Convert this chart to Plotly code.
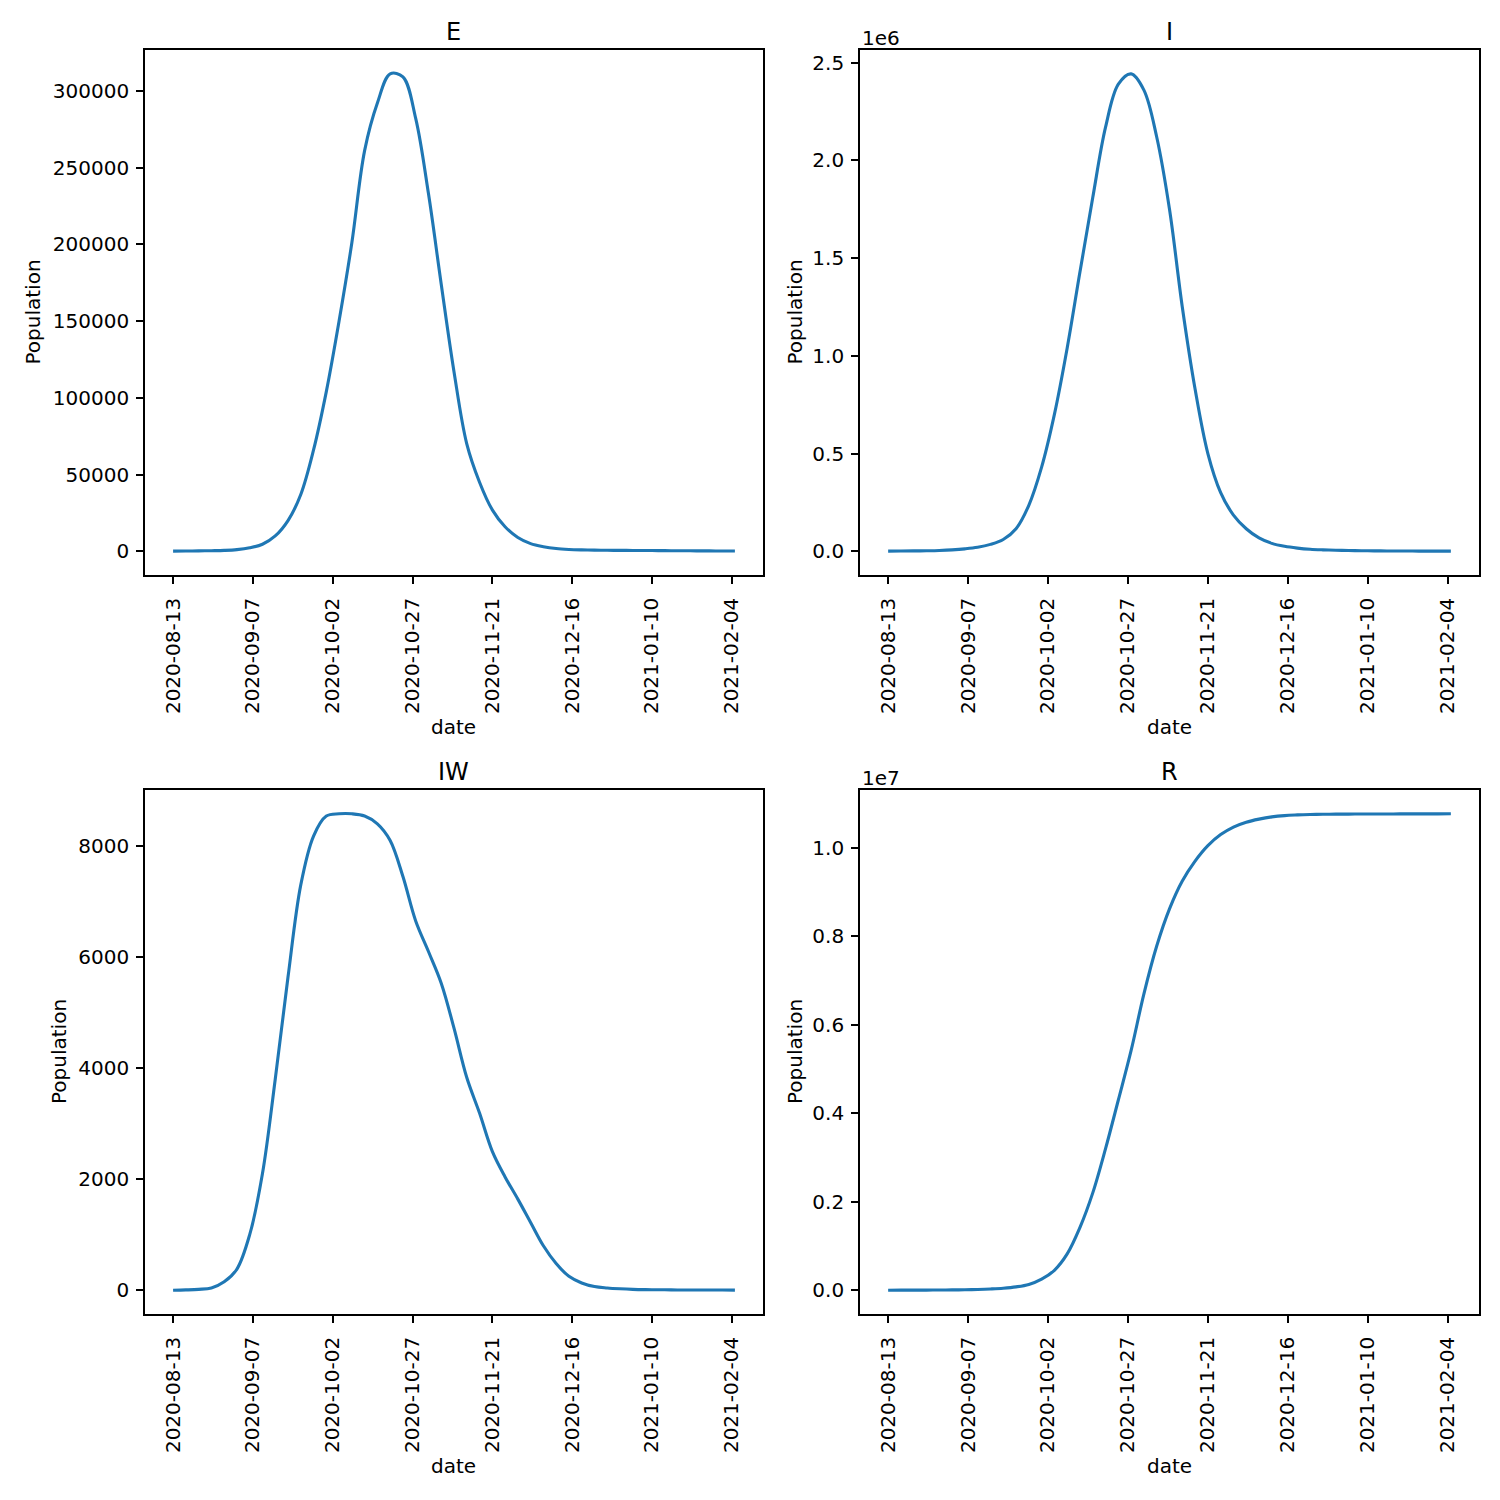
import pandas as pd
import plotly.graph_objects as go

dates = pd.date_range("2020-08-13", periods=45, freq="4D")

E = [100, 150, 250, 400, 600, 1100, 2300, 4600, 10000, 20000,
     37000, 66000, 104000, 150000, 201000, 261000, 292000, 311000, 309000, 282000,
     233000, 174000, 117000, 70000, 45000, 27000, 16000, 9000, 5000, 3000,
     1800, 1200, 900, 750, 650, 600, 550, 500, 450, 400,
     350, 300, 250, 220, 200]

I = [500, 900, 1500, 2500, 4000, 7000, 12000, 20000, 35000, 60000,
     115000, 235000, 430000, 700000, 1040000, 1430000, 1810000, 2170000, 2390000, 2443000,
     2360000, 2120000, 1750000, 1250000, 830000, 500000, 300000, 185000, 115000, 68000,
     40000, 25000, 16000, 10000, 7000, 5000, 3500, 2500, 1800, 1300,
     1000, 800, 600, 500, 400]

IW = [0, 5, 15, 40, 150, 380, 1000, 2100, 3800, 5640,
      7300, 8180, 8540, 8580, 8580, 8540, 8400, 8100, 7450, 6650,
      6100, 5530, 4720, 3830, 3190, 2500, 2040, 1640, 1220, 800,
      480, 250, 130, 65, 40, 25, 15, 10, 8, 5,
      4, 3, 2, 2, 1]

R = [0, 500, 1000, 2000, 3500, 6000, 10000, 17000, 28000, 45000,
     75000, 130000, 250000, 450000, 820000, 1420000, 2200000, 3200000, 4300000, 5420000,
     6700000, 7780000, 8620000, 9250000, 9700000, 10050000, 10300000, 10470000, 10580000, 10650000,
     10700000, 10730000, 10745000, 10755000, 10760000, 10762000, 10764000, 10765000, 10766000, 10767000,
     10768000, 10768000, 10769000, 10769000, 10770000]

tick_dates = ["2020-08-13", "2020-09-07", "2020-10-02", "2020-10-27",
              "2020-11-21", "2020-12-16", "2021-01-10", "2021-02-04"]

E_ticks = [0, 50000, 100000, 150000, 200000, 250000, 300000]
I_ticks = [0, 0.5e6, 1.0e6, 1.5e6, 2.0e6, 2.5e6]
I_text = ["0.0", "0.5", "1.0", "1.5", "2.0", "2.5"]
IW_ticks = [0, 2000, 4000, 6000, 8000]
R_ticks = [0, 0.2e7, 0.4e7, 0.6e7, 0.8e7, 1.0e7]
R_text = ["0.0", "0.2", "0.4", "0.6", "0.8", "1.0"]

OFF = 8  # page margin around the plot div
W = H = 1500 - OFF
FONT = "DejaVu Sans"
BLUE = "#1f77b4"


def pad(lo, hi):
    m = (hi - lo) * 0.05
    return [lo - m, hi + m]


def px(x):
    return (x - OFF) / W


def py(y):
    return 1 - (y - OFF) / H


span = dates[-1] - dates[0]
xrange = [dates[0] - span * 0.05, dates[-1] + span * 0.05]

# axes boxes in screen pixels (left, top, right, bottom)
boxes = [(145, 50, 763, 575), (860, 50, 1479, 575),
         (145, 790, 763, 1314), (860, 790, 1479, 1314)]
panels = [("E", E, E_ticks, [str(v) for v in E_ticks], None),
          ("I", I, I_ticks, I_text, "1e6"),
          ("IW", IW, IW_ticks, [str(v) for v in IW_ticks], None),
          ("R", R, R_ticks, R_text, "1e7")]
ylab_x = [33, 795, 59, 795]

fig = go.Figure()
annotations = []
layout = dict(width=W, height=H, margin=dict(l=0, r=0, t=0, b=0),
              paper_bgcolor="white", plot_bgcolor="white", showlegend=False,
              font=dict(family=FONT, size=20, color="black"))


def note(text, x, y, size=20, **kw):
    d = dict(text=text, x=px(x), y=py(y), xref="paper", yref="paper",
             xanchor="center", yanchor="middle", showarrow=False,
             font=dict(family=FONT, size=size, color="black"))
    d.update(kw)
    return d


for k, ((name, vals, yt, ytt, offset), (l, t, r, b)) in enumerate(zip(panels, boxes)):
    n = "" if k == 0 else str(k + 1)
    fig.add_trace(go.Scatter(x=dates, y=vals, mode="lines",
                             line=dict(color=BLUE, width=3.1, shape="spline", smoothing=1.0),
                             xaxis="x" + n, yaxis="y" + n))
    ax = dict(showgrid=False, zeroline=False, showline=True, mirror=True,
              linecolor="black", linewidth=1.7, ticks="outside", ticklen=7,
              tickwidth=1.7, tickcolor="black",
              tickfont=dict(family=FONT, size=20, color="black"))
    layout["xaxis" + n] = dict(ax, domain=[px(l), px(r)], anchor="y" + n,
                               type="date", range=xrange, tickvals=tick_dates,
                               ticktext=tick_dates, tickangle=-90, ticklabelstandoff=6)
    layout["yaxis" + n] = dict(ax, domain=[py(b), py(t)], anchor="x" + n,
                               range=pad(min(vals), max(vals)), tickvals=yt,
                               ticktext=ytt, ticklabelstandoff=3)
    cx = (l + r) / 2
    annotations.append(note(name, cx, t - 18, size=24))
    annotations.append(note("date", cx, b + 152))
    annotations.append(note("Population", ylab_x[k], (t + b) / 2, textangle=-90))
    if offset:
        annotations.append(note(offset, l, t + 2, xanchor="left", yanchor="bottom"))

layout["annotations"] = annotations
fig.update_layout(**layout)

fig.write_html("out.html")
